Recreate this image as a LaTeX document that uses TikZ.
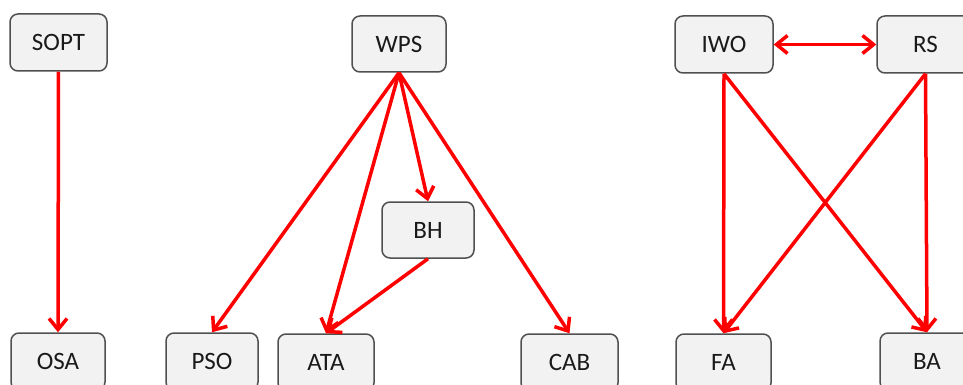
\documentclass[tikz,border=0pt]{standalone}
\usepackage{fontspec}
\setmainfont{Carlito}
\usetikzlibrary{arrows.meta}
\definecolor{boxfill}{HTML}{F2F2F2}
\definecolor{boxline}{HTML}{505050}
\definecolor{linkred}{HTML}{FF0000}
\definecolor{labeltext}{HTML}{1A1A1A}
\tikzset{
  barb/.tip={Straight Barb[length=11pt,width=18pt,line width=3.5pt]}
}
\begin{document}
\begin{tikzpicture}[x=1pt,y=-1pt,
  box/.style={draw=boxline, line width=1.5pt, fill=boxfill, rounded corners=8pt,
    minimum height=57pt, minimum width=95pt, inner sep=0pt,
    font=\fontsize{25}{30}\selectfont, text=labeltext},
  link/.style={draw=linkred, line width=3.5pt, -barb},
  both/.style={draw=linkred, line width=3.5pt, barb-barb}]
\useasboundingbox (0,0) rectangle (963,385);
\clip (0,0) rectangle (963,385);

% top row
\node[box, minimum width=97pt] (sopt) at (58.5,42.5) {SOPT};
\node[box, minimum width=94pt, minimum height=56pt] (wps) at (399,44) {WPS};
\node[box, minimum width=98pt] (iwo) at (724,44.5) {IWO};
\node[box, minimum width=97pt] (rs) at (925.5,44.5) {RS};

% middle
\node[box, minimum width=92pt, minimum height=56pt] (bh) at (428,230) {BH};

% bottom row
\node[box, minimum width=94pt] (osa) at (58,361.5) {OSA};
\node[box, minimum width=92pt] (pso) at (212,361.5) {PSO};
\node[box, minimum width=96pt] (ata) at (326,362.5) {ATA};
\node[box, minimum width=97pt] (cab) at (569.5,362.5) {CAB};
\node[box, minimum width=95pt] (fa) at (723.5,362.5) {FA};
\node[box, minimum width=94pt] (ba) at (927,361.5) {BA};

% connectors
\draw[link] (sopt.south) -- (osa.north);
\draw[link] (wps.south) -- (pso.north);
\draw[link] (wps.south) -- (ata.north);
\draw[link] (wps.south) -- (bh.north);
\draw[link] (wps.south) -- (cab.north);
\draw[link] (bh.south) -- (ata.north);
\draw[both] (iwo.east) -- (rs.west);
\draw[link] (iwo.south) -- (fa.north);
\draw[link] (iwo.south) -- (ba.north);
\draw[link] (rs.south) -- (fa.north);
\draw[link] (rs.south) -- (ba.north);
\end{tikzpicture}
\end{document}
